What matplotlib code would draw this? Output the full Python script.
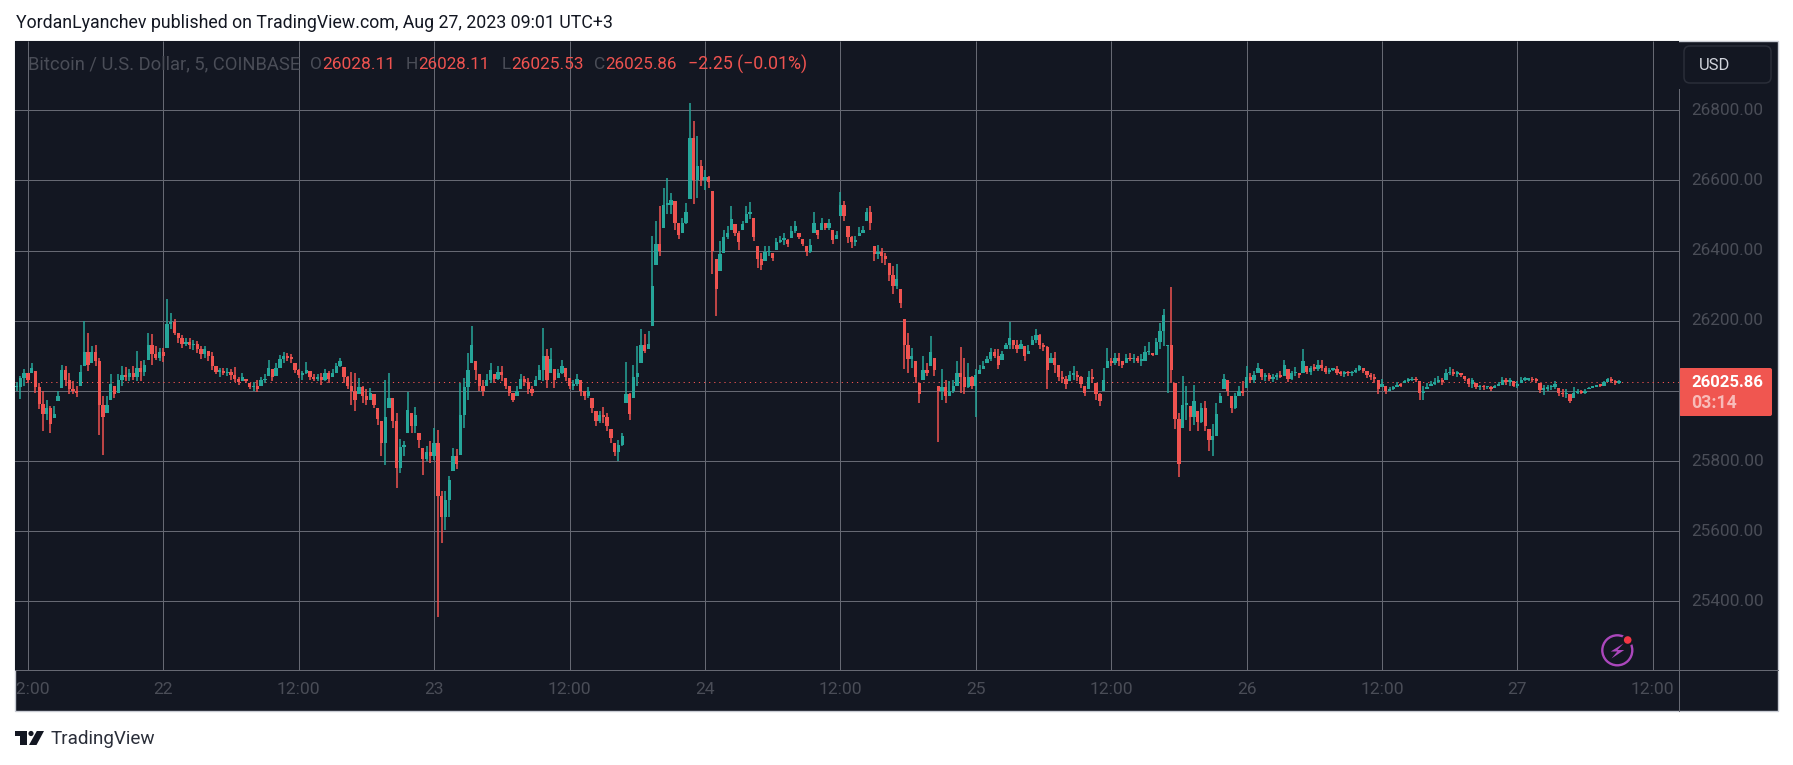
import matplotlib
matplotlib.use("Agg")
import matplotlib.pyplot as plt
import numpy as np
from matplotlib.patches import Circle, FancyBboxPatch, Polygon, Rectangle

# 20 minute bars, first bar is 13 hours before the 22nd
highs = [
    26025, 26042, 26063, 26051, 26080, 26056, 26023, 25999, 25975, 25956,
    25956, 25999, 26075, 26072, 26051, 26028, 26013, 26075, 26198, 26165,
    26129, 26132, 26094, 25985, 25985, 26047, 26013, 26047, 26072, 26068,
    26061, 26070, 26115, 26085, 26089, 26165, 26161, 26127, 26123,
    # 22nd
    26123, 26263, 26222, 26204, 26165, 26158, 26151, 26151, 26146, 26142,
    26127, 26129, 26113, 26110, 26072, 26066, 26066, 26066, 26061, 26068,
    26040, 26051, 26034, 26023, 26025, 26032, 26040, 26047, 26087, 26061,
    26080, 26101, 26111, 26107, 26104, 26080,
    26061, 26056, 26083, 26056, 26047, 26047, 26051, 26063, 26056, 26061,
    26080, 26094, 26068, 26042, 26053, 26051, 26037, 26013, 26004, 26009,
    25990, 25951, 25913, 26032, 26051, 25980, 25937, 25863, 25858, 25997,
    25937, 25954, 25880, 25837, 25842, 25858,
    # 23rd
    25894, 25888, 25714, 25714, 25757, 25837, 25833, 26023, 26037, 26108,
    26184, 26085, 26047, 26032, 26047, 26080, 26047, 26072, 26070, 26037,
    26013, 25994, 26013, 26049, 26042, 26037, 26013, 26042, 26075, 26180,
    26118, 26121, 26061, 26061, 26089, 26066,
    26037, 26032, 26047, 26032, 25999, 26011, 25980, 25942, 25942, 25954,
    25937, 25890, 25852, 25861, 25880, 26083, 25994, 26075, 26127, 26177,
    26161, 26170, 26441, 26484, 26527, 26579, 26608, 26565, 26541, 26479,
    26494, 26536, 26820, 26769, 26727, 26657,
    # 24th
    26631, 26614, 26570, 26375, 26427, 26460, 26470, 26527, 26475, 26455,
    26484, 26527, 26539, 26494, 26413, 26394, 26413, 26413, 26394, 26436,
    26441, 26449, 26432, 26470, 26484, 26451, 26432, 26413, 26432, 26511,
    26460, 26494, 26479, 26489, 26460, 26455,
    26568, 26541, 26470, 26441, 26441, 26468, 26470, 26522, 26527, 26413,
    26417, 26408, 26394, 26365, 26356, 26363, 26289, 26204, 26165, 26123,
    26085, 26023, 26099, 26080, 26156, 26094, 26013, 26061, 26032, 26028,
    26032, 26085, 26125, 26094, 26080, 26042,
    # 25th
    26061, 26075, 26085, 26099, 26123, 26118, 26118, 26113, 26137, 26197,
    26146, 26146, 26146, 26127, 26132, 26156, 26175, 26161, 26137, 26127,
    26108, 26111, 26075, 26056, 26042, 26056, 26070, 26056, 26042, 26013,
    26056, 26061, 26023, 25994, 26064, 26121,
    26094, 26108, 26108, 26085, 26104, 26107, 26104, 26099, 26104, 26127,
    26140, 26107, 26151, 26194, 26232, 26127, 26297, 26023, 25937, 26042,
    26013, 25956, 26018, 25942, 25966, 25971, 25890, 25906, 25966, 25994,
    26047, 26032, 25985, 25994, 26013, 26028,
    # 26th
    26070, 26051, 26056, 26080, 26061, 26051, 26051, 26049, 26051, 26056,
    26089, 26061, 26056, 26068, 26051, 26118, 26070, 26070, 26077, 26087,
    26087, 26070, 26066, 26066, 26070, 26056, 26056, 26056, 26056, 26066,
    26075, 26066, 26056, 26051, 26047, 26032,
    26034, 26015, 26011, 26013, 26025, 26023, 26032, 26037, 26039, 26039,
    26028, 26013, 26023, 26028, 26037, 26042, 26037, 26061, 26068, 26061,
    26056, 26051, 26042, 26037, 26037, 26023, 26018, 26018, 26013, 26013,
    26018, 26025, 26039, 26037, 26037, 26028,
    # 27th
    26028, 26040, 26039, 26037, 26040, 26037, 26023, 26018, 26018, 26018,
    26028, 26009, 26004, 26004, 25990, 26011, 26004, 26002, 26004, 26011,
    26015, 26018, 26020, 26028, 26037, 26040, 26030, 26032,
]
lows = [
    25999, 25977, 26013, 26023, 26051, 25994, 25947, 25885, 25918, 25880,
    25923, 25970, 26009, 26013, 25990, 25990, 25983, 26013, 26070, 26056,
    26080, 26070, 25875, 25816, 25937, 25975, 25980, 25994, 26013, 26028,
    26028, 26032, 26028, 26028, 26042, 26089, 26075, 26089, 26085,
    # 22nd
    26082, 26123, 26177, 26158, 26137, 26123, 26127, 26118, 26116, 26108,
    26092, 26094, 26085, 26059, 26047, 26040, 26044, 26042, 26032, 26025,
    26018, 26028, 26021, 26004, 25999, 25996, 26013, 26023, 26042, 26028,
    26042, 26066, 26080, 26085, 26080, 26051,
    26037, 26032, 26047, 26032, 26028, 26028, 26018, 26028, 26023, 26040,
    26051, 26068, 26023, 26004, 25961, 25942, 25990, 25966, 25961, 25975,
    25951, 25904, 25814, 25788, 25951, 25894, 25723, 25766, 25814, 25880,
    25880, 25880, 25837, 25761, 25799, 25795,
    # 23rd
    25804, 25354, 25566, 25602, 25640, 25771, 25776, 25818, 25894, 25975,
    26080, 26032, 25999, 25985, 26013, 26023, 26023, 26032, 26028, 26004,
    25985, 25968, 25985, 26004, 26015, 25990, 25985, 26013, 26032, 26028,
    26009, 26051, 26007, 26037, 26047, 26028,
    26004, 26001, 26013, 25985, 25973, 25980, 25937, 25899, 25909, 25909,
    25885, 25852, 25814, 25800, 25844, 25966, 25916, 25980, 26013, 26080,
    26108, 26118, 26184, 26360, 26384, 26465, 26503, 26503, 26460, 26432,
    26451, 26475, 26546, 26532, 26551, 26584,
    # 24th
    26574, 26579, 26332, 26213, 26341, 26394, 26432, 26460, 26441, 26403,
    26460, 26479, 26489, 26427, 26351, 26346, 26370, 26384, 26370, 26403,
    26422, 26417, 26411, 26436, 26451, 26432, 26413, 26384, 26394, 26451,
    26432, 26460, 26460, 26460, 26418, 26432,
    26498, 26484, 26422, 26408, 26413, 26441, 26451, 26484, 26460, 26370,
    26375, 26365, 26360, 26313, 26275, 26289, 26237, 26061, 26051, 26066,
    26023, 25966, 26032, 26042, 26070, 26042, 25854, 25975, 25964, 25985,
    25994, 26013, 25994, 25990, 26009, 26004,
    # 25th
    25926, 26047, 26061, 26080, 26085, 26094, 26061, 26089, 26118, 26118,
    26118, 26108, 26118, 26085, 26104, 26132, 26137, 26118, 26113, 26004,
    26080, 26051, 26028, 26023, 26004, 26028, 26032, 26028, 26009, 25985,
    26004, 26023, 25975, 25956, 25999, 26066,
    26070, 26075, 26070, 26066, 26080, 26085, 26080, 26078, 26070, 26085,
    26102, 26099, 26102, 26118, 26127, 25994, 26023, 25890, 25754, 25894,
    25918, 25885, 25904, 25885, 25909, 25885, 25828, 25814, 25871, 25966,
    26004, 25985, 25937, 25947, 25985, 25985,
    # 26th
    26009, 26023, 26023, 26051, 26032, 26028, 26028, 26025, 26032, 26037,
    26042, 26025, 26032, 26042, 26037, 26051, 26047, 26044, 26056, 26056,
    26056, 26047, 26047, 26056, 26044, 26042, 26040, 26042, 26042, 26051,
    26056, 26051, 26037, 26032, 26023, 25992,
    26011, 25992, 25999, 26002, 26011, 26011, 26021, 26026, 26028, 26026,
    25973, 25973, 26004, 26013, 26018, 26023, 26018, 26032, 26044, 26042,
    26040, 26040, 26028, 26011, 26009, 26004, 26002, 26002, 26004, 25999,
    26009, 26013, 26018, 26018, 26015, 26010,
    # 27th
    26009, 26023, 26028, 26028, 26025, 26023, 25994, 25988, 25999, 26001,
    26004, 25985, 25983, 25980, 25964, 25980, 25992, 25990, 25992, 26004,
    26008, 26011, 26011, 26013, 26025, 26023, 26018, 26020,
]
closes = [
    26012, 26036, 26050, 26032, 26066, 26012, 25962, 25935, 25950, 25905,
    25935, 25985, 26060, 26030, 26005, 26000, 25995, 26055, 26110, 26075,
    26110, 26085, 25960, 25925, 25960, 26020, 25990, 26030, 26045, 26040,
    26050, 26040, 26065, 26055, 26075, 26130, 26105, 26095, 26110,
    # 22nd
    26100, 26190, 26195, 26165, 26150, 26135, 26140, 26130, 26135, 26120,
    26105, 26120, 26100, 26070, 26055, 26058, 26050, 26055, 26045, 26035,
    26025, 26040, 26028, 26010, 26015, 26005, 26030, 26035, 26065, 26040,
    26065, 26090, 26100, 26095, 26092, 26060,
    26045, 26050, 26060, 26040, 26035, 26040, 26030, 26050, 26035, 26050,
    26072, 26085, 26040, 26015, 26000, 25975, 26010, 25985, 25975, 25995,
    25960, 25920, 25850, 25925, 25980, 25915, 25780, 25840, 25845, 25945,
    25900, 25930, 25860, 25805, 25825, 25815,
    # 23rd
    25850, 25700, 25640, 25690, 25745, 25815, 25790, 25930, 26010, 26060,
    26130, 26060, 26015, 26000, 26030, 26060, 26035, 26055, 26045, 26015,
    25995, 25975, 26000, 26035, 26025, 26005, 25995, 26030, 26060, 26100,
    26030, 26090, 26030, 26050, 26070, 26040,
    26015, 26020, 26035, 26000, 25985, 26000, 25950, 25915, 25930, 25925,
    25900, 25865, 25825, 25845, 25870, 25990, 25935, 26040, 26050, 26130,
    26115, 26135, 26300, 26420, 26400, 26530, 26530, 26545, 26480, 26445,
    26480, 26510, 26720, 26600, 26640, 26600,
    # 24th
    26610, 26595, 26400, 26290, 26390, 26440, 26450, 26490, 26450, 26425,
    26475, 26505, 26510, 26440, 26375, 26360, 26395, 26395, 26380, 26425,
    26430, 26430, 26420, 26455, 26470, 26440, 26420, 26395, 26415, 26480,
    26445, 26480, 26465, 26480, 26430, 26445,
    26530, 26500, 26440, 26425, 26425, 26450, 26460, 26510, 26480, 26390,
    26395, 26385, 26375, 26330, 26300, 26320, 26250, 26130, 26090, 26100,
    26040, 25990, 26060, 26050, 26110, 26060, 26000, 26010, 25985, 26000,
    26015, 26050, 26040, 26010, 26040, 26015,
    # 25th
    26045, 26060, 26070, 26090, 26110, 26100, 26075, 26105, 26130, 26150,
    26130, 26120, 26135, 26100, 26115, 26145, 26160, 26130, 26125, 26060,
    26095, 26075, 26040, 26035, 26020, 26045, 26045, 26040, 26020, 25995,
    26040, 26035, 25990, 25970, 26030, 26085,
    26080, 26095, 26085, 26075, 26095, 26090, 26095, 26085, 26085, 26110,
    26110, 26102, 26140, 26170, 26215, 26130, 26060, 25920, 25790, 25960,
    25960, 25925, 25970, 25910, 25950, 25900, 25860, 25870, 25935, 25985,
    26035, 26000, 25950, 25985, 26000, 25995,
    # 26th
    26040, 26030, 26045, 26065, 26040, 26045, 26035, 26040, 26045, 26040,
    26075, 26035, 26050, 26050, 26045, 26085, 26055, 26065, 26062, 26075,
    26065, 26055, 26060, 26062, 26050, 26048, 26052, 26050, 26054, 26060,
    26070, 26058, 26045, 26040, 26035, 26005,
    26020, 26000, 26005, 26008, 26018, 26015, 26028, 26030, 26033, 26030,
    25995, 26000, 26010, 26020, 26025, 26032, 26025, 26050, 26055, 26048,
    26048, 26045, 26035, 26020, 26030, 26010, 26012, 26010, 26010, 26005,
    26014, 26018, 26030, 26025, 26028, 26015,
    # 27th
    26018, 26032, 26032, 26033, 26030, 26028, 26002, 26005, 26010, 26010,
    26020, 25995, 25990, 25995, 25970, 25995, 25998, 25995, 26000, 26008,
    26012, 26015, 26014, 26025, 26033, 26028, 26022, 26025.86,
]
first_open = 26010

price_ticks = [26800, 26600, 26400, 26200, 26000, 25800, 25600, 25400]
price_labels = ["26800.00", "26600.00", "26400.00", "26200.00", "", "25800.00", "25600.00", "25400.00"]
time_ticks = [-12, 0, 12, 24, 36, 48, 60, 72, 84, 96, 108, 120, 132]
time_labels = ["12:00", "22", "12:00", "23", "12:00", "24", "12:00", "25",
               "12:00", "26", "12:00", "27", "12:00"]
last_price = 26025.86

BG = "#131722"
GRID = "#666973"
DIM = "#4a4d57"
UP = "#26a69a"
DOWN = "#ef5350"
W, H = 1793, 765

plt.rcParams["font.family"] = "Roboto"
fig = plt.figure(figsize=(W / 100, H / 100), dpi=100, facecolor="white")


def axes_px(x0, y0, x1, y1):
    return fig.add_axes([x0 / W, 1 - y1 / H, (x1 - x0) / W, (y1 - y0) / H])


# page layer in pixel coordinates, for the frame and the widgets around the chart
page = axes_px(0, 0, W, H)
page.set_xlim(0, W)
page.set_ylim(H, 0)
page.axis("off")
page.add_patch(Rectangle((15, 41), 1763, 670, fc=BG, ec="#c9ccd4", lw=1))

pane = axes_px(15.3, 41, 1679, 670)
pane.set_facecolor(BG)
pane.set_xlim(-13.116, 134.32)
pane.set_ylim(25204, 26997.6)
pane.set_xticks([])
pane.set_yticks([])
for s in pane.spines.values():
    s.set_visible(False)

px = 0.72
pane.hlines(price_ticks, -14, 135, color=GRID, lw=px, zorder=1)
pane.vlines(time_ticks, 25204, 26998, color=GRID, lw=px, zorder=1)
pane.axhline(last_price, color=DOWN, lw=px, ls=(0, (1.2, 3.9)), zorder=2)

closes_a = np.array(closes, dtype=float)
highs_a = np.array(highs, dtype=float)
lows_a = np.array(lows, dtype=float)
opens_a = np.clip(np.r_[first_open, closes_a[:-1]], lows_a, highs_a)
hours = -13 + np.arange(len(closes_a)) / 3
colors = np.where(closes_a >= opens_a, UP, DOWN)
body_low = np.minimum(opens_a, closes_a)
body_h = np.maximum(np.abs(closes_a - opens_a), 5)

pane.vlines(hours, lows_a, highs_a, colors=list(colors), lw=1.1, zorder=3)
pane.bar(hours, body_h, 3.3 / 11.284, bottom=body_low, color=list(colors), lw=0, zorder=3)

page.set_zorder(0)
pane.set_zorder(1)
over = axes_px(0, 0, W, H)
over.set_xlim(0, W)
over.set_ylim(H, 0)
over.axis("off")
over.set_zorder(2)


def put(text, x0, x1, y, color, weight="normal", alpha=1.0):
    t = over.text(x0, y, text, color=color, ha="left", va="center", fontsize=12,
                  fontweight=weight, alpha=alpha)
    width = t.get_window_extent(fig.canvas.get_renderer()).width
    t.set_fontsize(12 * (x1 - x0) / width)
    return t


def put_letter(text, x0, y, color):
    over.text(x0, y, text, color=color, ha="left", va="center", fontsize=12.5)


put("YordanLyanchev published on TradingView.com, Aug 27, 2023 09:01 UTC+3", 16, 613, 23, "#131722")
put("Bitcoin / U.S. Dollar, 5, COINBASE", 27.5, 298, 64, DIM)
put_letter("O", 310, 64, DIM)
put("26028.11", 322.6, 395, 64, DOWN)
put_letter("H", 406, 64, DIM)
put("26028.11", 418, 489, 64, DOWN)
put_letter("L", 502, 64, DIM)
put("26025.53", 511, 583, 64, DOWN)
put_letter("C", 594, 64, DIM)
put("26025.86", 605.6, 677, 64, DOWN)
put("\u22122.25 (\u22120.01%)", 688, 806.5, 64, DOWN)

# price axis
over.plot([1679, 1679], [89, 711], color=GRID, lw=px)
over.plot([15, 1778], [670, 670], color=GRID, lw=px)
for tick, label in zip(price_ticks, price_labels):
    if label:
        put(label, 1691, 1763, 110.3 + (26800 - tick) * 0.35071, DIM)

over.add_patch(FancyBboxPatch((1684, 46), 87, 37, boxstyle="round,pad=0,rounding_size=6",
                              fc=BG, ec="#2a2e39", lw=1.1))
put("USD", 1699, 1730, 65, "#d1d4dc")

over.add_patch(FancyBboxPatch((1679, 368), 93, 48, boxstyle="round,pad=0,rounding_size=2",
                              fc="#f05650", ec="none"))
put("26025.86", 1691, 1763, 382, "white", weight="bold")
put("03:14", 1691, 1736, 403, "white", weight="bold", alpha=0.6)

# time axis, the first label is cut off by the pane edge
time_ax = axes_px(15.3, 670, 1679, 711)
time_ax.set_xlim(pane.get_xlim())
time_ax.set_ylim(0, 1)
time_ax.axis("off")
time_ax.patch.set_visible(False)
time_ax.set_zorder(3)
for tick, label in zip(time_ticks, time_labels):
    time_ax.text(tick, 0.52, label, color=DIM, ha="center", va="center", fontsize=12.6, clip_on=True)

# lightning icon
over.add_patch(Circle((1617.3, 650.3), 15, fc="none", ec="#ab47bc", lw=1.7))
over.add_patch(Circle((1627.7, 640), 6, fc=BG, ec="none"))
over.add_patch(Circle((1627.7, 640), 3.8, fc="#f23645", ec="none"))
over.add_patch(Polygon([(1623.5, 643.5), (1610.7, 651.5), (1617.3, 651.5), (1611.5, 658.5),
                        (1624.3, 650), (1617.5, 650)], closed=True, fc="#ab47bc", ec="none"))

# footer logo
footer = "#131722"
over.add_patch(Polygon([(15.3, 731), (26.8, 731), (26.8, 745), (19.5, 745), (19.5, 735.5), (15.3, 735.5)],
                       closed=True, fc=footer, ec="none"))
over.add_patch(Circle((31, 733.5), 2.6, fc=footer, ec="none"))
over.add_patch(Polygon([(36.8, 731), (44, 731), (36.5, 745), (29, 745)], closed=True, fc=footer, ec="none"))
put("TradingView", 50.5, 155, 739, "#2a2e39")

fig.savefig("out.png", dpi=100, facecolor="white")
